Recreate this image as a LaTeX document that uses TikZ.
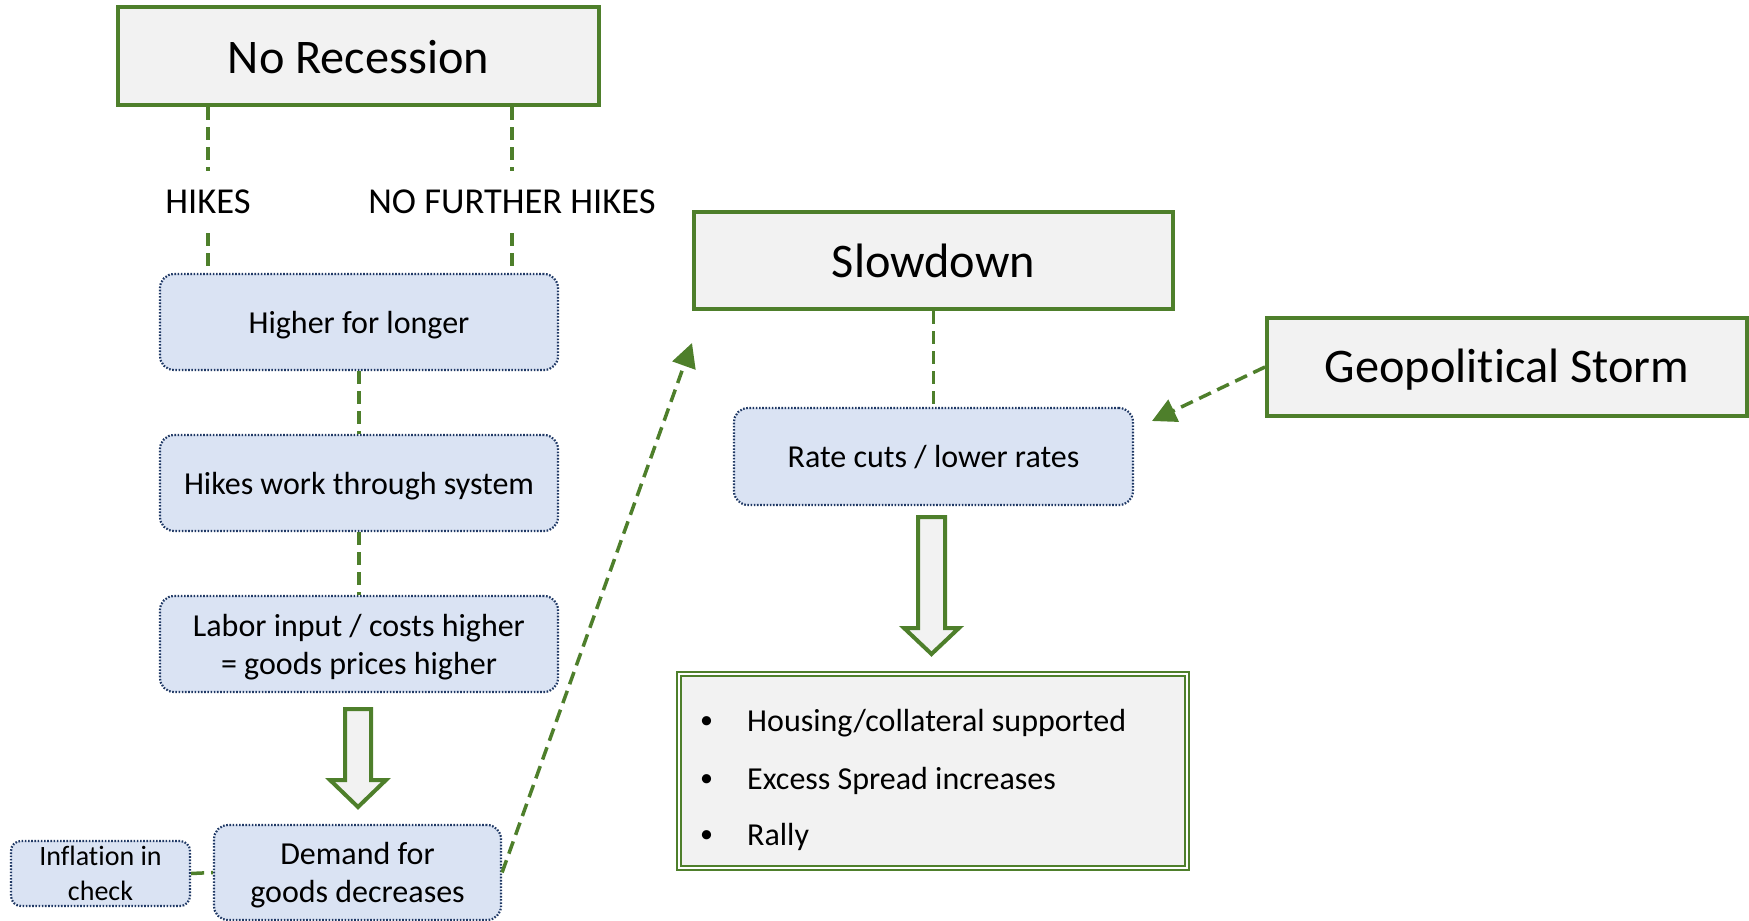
\documentclass[tikz,border=0pt]{standalone}
\usepackage{fontspec}
\setmainfont{Carlito}[Ligatures=NoCommon]
\usetikzlibrary{arrows.meta}
\definecolor{boxgreen}{HTML}{4E7F2B}
\definecolor{boxfill}{HTML}{F2F2F2}
\definecolor{bluefill}{HTML}{DAE3F3}
\definecolor{navy}{HTML}{1F3864}
\newcommand{\lowertxt}[1]{\raisebox{-3pt}[\height][\depth]{#1}}
\tikzset{
  title/.style={draw=boxgreen, line width=4pt, fill=boxfill, inner sep=0pt, font=\fontsize{48.3}{56}\selectfont},
  bluebox/.style={draw=navy, line width=2.2pt, dash pattern=on 1.6pt off 1.6pt, fill=bluefill, rounded corners=14pt, inner sep=0pt, align=center, font=\fontsize{32}{38}\selectfont},
  conn/.style={draw=boxgreen, line width=3.5pt, dash pattern=on 13pt off 7pt},
  tip/.style={-{Triangle[length=24pt,width=24pt]}},
  lbl/.style={inner sep=0pt, minimum height=62pt, font=\fontsize{36.5}{42}\selectfont},
  hollow/.style={draw=boxgreen, line width=4pt, fill=boxfill, line join=miter},
  itemtext/.style={anchor=west, inner sep=0pt, font=\fontsize{32}{38}\selectfont}
}
\begin{document}
\begin{tikzpicture}[x=1pt,y=-1pt]
\useasboundingbox (0,0) rectangle (1749,921);
% title boxes
\node[title, minimum width=481pt, minimum height=98pt] (norec) at (358.5,56) {\raisebox{-1pt}[\height][\depth]{No Recession}};
\node[title, minimum width=479pt, minimum height=97pt] (slow) at (933.5,260.5) {Slowdown};
\node[title, minimum width=480pt, minimum height=98pt] (geo) at (1507,367) {\lowertxt{Geopolitical Storm}};
% labels
\node[lbl] (hikes) at (208,202) {HIKES};
\node[lbl] (nofurther) at (512,202) {NO FURTHER HIKES};
% blue boxes
\node[bluebox, minimum width=398pt, minimum height=96pt] (higher) at (359,322) {\lowertxt{Higher for longer}};
\node[bluebox, minimum width=398pt, minimum height=96pt] (work) at (359,483) {\lowertxt{Hikes work through system}};
\node[bluebox, minimum width=398pt, minimum height=96pt] (labor) at (359,644) {\lowertxt{Labor input / costs higher}\\\lowertxt{= goods prices higher}};
\node[bluebox, minimum width=287pt, minimum height=95pt] (demand) at (357.5,872.5) {\lowertxt{Demand for}\\\lowertxt{goods decreases}};
\node[bluebox, minimum width=179pt, minimum height=65pt, rounded corners=10pt, font=\fontsize{28}{35}\selectfont] (inflation) at (100.5,873.5) {Inflation in\\check};
\node[bluebox, minimum width=399pt, minimum height=97pt] (rate) at (933.5,456.5) {\raisebox{-1pt}[\height][\depth]{Rate cuts / lower rates}};
% effects box
\node[draw=boxgreen, line width=1.3pt, double=white, double distance=2.5pt, fill=boxfill, minimum width=508pt, minimum height=194pt, inner sep=0pt] (effects) at (933,771) {};
\node[itemtext, font=\fontsize{26}{30}\selectfont] (b1) at (700,723) {•};
\node[itemtext] (t1) at (747,723) {Housing/collateral supported};
\node[itemtext, font=\fontsize{26}{30}\selectfont] (b2) at (700,781) {•};
\node[itemtext] (t2) at (747,781) {Excess Spread increases};
\node[itemtext, font=\fontsize{26}{30}\selectfont] (b3) at (700,837) {•};
\node[itemtext] (t3) at (747,837) {Rally};
% connectors
\draw[conn] (norec.south -| hikes) -- (hikes.north);
\draw[conn] (hikes.south) -- (higher.north -| hikes);
\draw[conn] (norec.south -| nofurther) -- (nofurther.north);
\draw[conn] (nofurther.south) -- (higher.north -| nofurther);
\draw[conn] (higher.south) -- (work.north);
\draw[conn] (work.south) -- (labor.north);
\draw[conn] (inflation.east) -- (demand.west);
\draw[conn] (slow.south) -- (rate.north);
\coordinate (slowin) at (692,343);
\coordinate (ratein) at (1152,421);
\draw[conn, tip] (demand.east) -- (slowin);
\draw[conn, tip] (geo.west) -- (ratein);
% hollow arrows
\draw[hollow] (345,709) -- (371,709) -- (371,780) -- (386,780) -- (358,807) -- (330,780) -- (345,780) -- cycle;
\draw[hollow] (918,517) -- (945,517) -- (945,628) -- (959,628) -- (931.5,654) -- (904,628) -- (918,628) -- cycle;
\end{tikzpicture}
\end{document}
